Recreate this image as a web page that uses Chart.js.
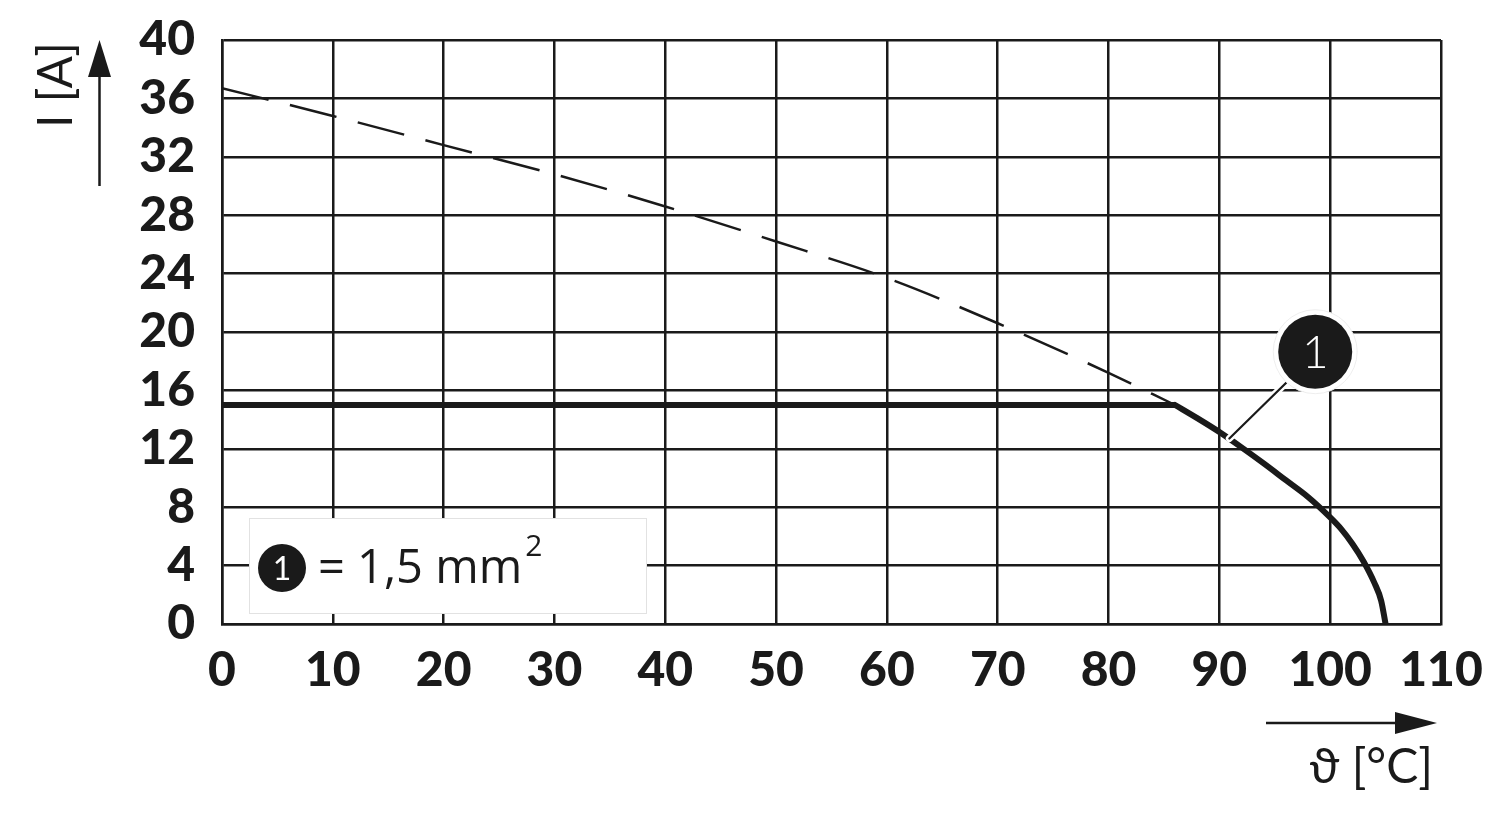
<!DOCTYPE html>
<html>
<head>
<meta charset="utf-8">
<script src="https://cdn.jsdelivr.net/npm/chart.js@4.4.1/dist/chart.umd.min.js"></script>
<style>
  html, body { margin: 0; padding: 0; background: #ffffff; }
  #wrap { width: 1500px; height: 820px; position: relative; }
</style>
</head>
<body>
<div id="wrap"><canvas id="c" width="1500" height="820"></canvas></div>
<script>
// ---- data ----
const xTicks = [0, 10, 20, 30, 40, 50, 60, 70, 80, 90, 100, 110];
const yTicks = [0, 4, 8, 12, 16, 20, 24, 28, 32, 36, 40];

const dashedT = [0, 10, 20, 30, 40, 50, 60, 70, 80, 86];
const dashedI = [36.7, 34.8, 32.8, 30.8, 28.6, 26.2, 23.7, 20.6, 17.2, 15.0];

const flatT = [0, 86];
const flatI = [15, 15];

const curveT = [86, 88, 90, 92, 94, 96, 98, 100, 101, 102, 103, 104, 104.6, 105];
const curveI = [15, 14.1, 13.15, 12.1, 11.0, 9.85, 8.7, 7.3, 6.5, 5.5, 4.3, 2.8, 1.6, 0];

const legendText = "= 1,5 mm";
const legendSup = "2";
const calloutLabel = "1";
const yTitle = "I [A]";
const xTitle = "\u03D1 [°C]";

function pts(xs, ys) { return xs.map((x, i) => ({ x: x, y: ys[i] })); }

const INK = '#1a1a1a';

const decor = {
  id: 'decor',
  afterDatasetsDraw(chart) {
    const ctx = chart.ctx;
    const xs = chart.scales.x, ys = chart.scales.y;
    ctx.save();

    // Legend box
    const bx = 249, by = 518, bw = 397, bh = 95;
    ctx.fillStyle = '#ffffff';
    ctx.fillRect(bx, by, bw, bh);
    ctx.strokeStyle = '#e2e2e2';
    ctx.lineWidth = 1;
    ctx.strokeRect(bx + 0.5, by + 0.5, bw, bh);
    ctx.fillStyle = INK;
    ctx.beginPath();
    ctx.arc(282, 568, 24, 0, Math.PI * 2);
    ctx.fill();
    ctx.fillStyle = '#ffffff';
    ctx.font = '400 32px Lato';
    ctx.textAlign = 'center';
    ctx.textBaseline = 'alphabetic';
    ctx.fillText(calloutLabel, 282, 580);
    ctx.fillStyle = INK;
    ctx.textAlign = 'left';
    ctx.font = '400 47px "Open Sans"';
    ctx.fillText(legendText, 318, 583);
    const w = ctx.measureText(legendText).width;
    ctx.font = '400 30px "Open Sans"';
    ctx.fillText(legendSup, 318 + w + 3, 556);

    // Callout
    const cx = xs.getPixelForValue(98.65), cy = ys.getPixelForValue(18.65);
    const lx = xs.getPixelForValue(90.9), ly = ys.getPixelForValue(12.7);
    const sx = cx - 29, sy = cy + 31;
    ctx.lineCap = 'round';
    ctx.strokeStyle = '#ffffff';
    ctx.lineWidth = 7;
    ctx.beginPath(); ctx.moveTo(sx, sy); ctx.lineTo(lx, ly); ctx.stroke();
    ctx.strokeStyle = INK;
    ctx.lineWidth = 2.2;
    ctx.beginPath(); ctx.moveTo(sx, sy); ctx.lineTo(lx, ly); ctx.stroke();
    ctx.fillStyle = '#ffffff';
    ctx.beginPath(); ctx.arc(cx, cy, 42, 0, Math.PI * 2); ctx.fill();
    ctx.strokeStyle = '#eeeeee';
    ctx.lineWidth = 1;
    ctx.stroke();
    ctx.fillStyle = INK;
    ctx.beginPath(); ctx.arc(cx, cy, 37, 0, Math.PI * 2); ctx.fill();
    ctx.fillStyle = '#ffffff';
    ctx.font = '300 46px Lato';
    ctx.textAlign = 'center';
    ctx.fillText(calloutLabel, cx, cy + 16);

    // Y axis title + arrow
    ctx.save();
    ctx.translate(72, 85);
    ctx.rotate(-Math.PI / 2);
    ctx.fillStyle = INK;
    ctx.font = '400 48px Lato';
    ctx.textAlign = 'center';
    ctx.textBaseline = 'alphabetic';
    ctx.fillText(yTitle, 0, 0);
    ctx.restore();

    ctx.strokeStyle = INK;
    ctx.fillStyle = INK;
    ctx.lineWidth = 2.5;
    ctx.lineCap = 'butt';
    ctx.beginPath(); ctx.moveTo(99.5, 186); ctx.lineTo(99.5, 70); ctx.stroke();
    ctx.beginPath(); ctx.moveTo(99.5, 40); ctx.lineTo(111, 77); ctx.lineTo(88, 77); ctx.closePath(); ctx.fill();

    // X axis arrow + title
    ctx.beginPath(); ctx.moveTo(1266, 723); ctx.lineTo(1405, 723); ctx.stroke();
    ctx.beginPath(); ctx.moveTo(1437, 723); ctx.lineTo(1395, 712); ctx.lineTo(1395, 734); ctx.closePath(); ctx.fill();
    ctx.font = '400 48px Lato';
    ctx.textAlign = 'right';
    ctx.fillText(xTitle, 1433, 783);

    ctx.restore();
  }
};

new Chart(document.getElementById('c'), {
  type: 'line',
  data: {
    datasets: [
      { data: pts(dashedT, dashedI), borderColor: INK, borderWidth: 2.5, borderDash: [48, 22],
        pointRadius: 0, fill: false, cubicInterpolationMode: 'monotone' },
      { data: pts(flatT, flatI), borderColor: INK, borderWidth: 6,
        pointRadius: 0, fill: false, tension: 0 },
      { data: pts(curveT, curveI), borderColor: INK, borderWidth: 6, borderCapStyle: 'round',
        pointRadius: 0, fill: false, cubicInterpolationMode: 'monotone' }
    ]
  },
  options: {
    responsive: false,
    animation: false,
    events: [],
    layout: { padding: { left: 0, right: 59, top: 40, bottom: 0 } },
    plugins: { legend: { display: false }, tooltip: { enabled: false } },
    scales: {
      x: {
        type: 'linear', min: 0, max: 110,
        afterBuildTicks: (s) => { s.ticks = xTicks.map(v => ({ value: v })); },
        afterFit: (s) => { s.height = 196; s.paddingLeft = 0; s.paddingRight = 0; },
        grid: { color: INK, lineWidth: 2.5, drawTicks: false },
        border: { color: INK, width: 2.5 },
        ticks: { color: INK, padding: 18, maxRotation: 0, autoSkip: false,
                 font: { family: 'Lato', weight: 900, size: 48 } }
      },
      y: {
        type: 'linear', min: 0, max: 40,
        afterBuildTicks: (s) => { s.ticks = yTicks.map(v => ({ value: v })); },
        afterFit: (s) => { s.width = 222; s.paddingTop = 0; s.paddingBottom = 0; },
        grid: { color: INK, lineWidth: 2.5, drawTicks: false },
        border: { color: INK, width: 2.5 },
        ticks: { color: INK, padding: 27, autoSkip: false,
                 font: { family: 'Lato', weight: 900, size: 48 } }
      }
    }
  },
  plugins: [decor]
});
</script>
</body>
</html>
